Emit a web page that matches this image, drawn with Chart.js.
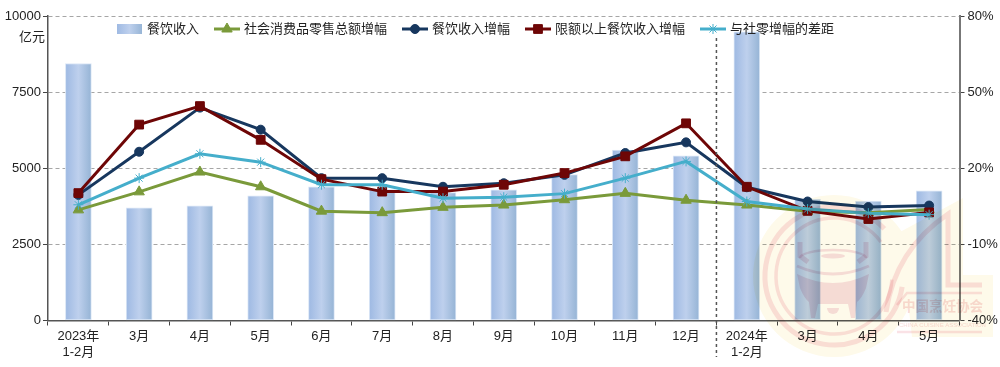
<!DOCTYPE html>
<html lang="zh">
<head>
<meta charset="utf-8">
<title>餐饮收入</title>
<script src="https://cdn.jsdelivr.net/npm/chart.js@4/dist/chart.umd.min.js"></script>
<style>
  html, body { margin: 0; padding: 0; background: #fff; }
  canvas { display: block; }
</style>
</head>
<body>
<canvas id="chart" width="1000" height="367"></canvas>
<script>
const categories = [['2023年', '1-2月'], '3月', '4月', '5月', '6月', '7月', '8月', '9月', '10月', '11月', '12月', ['2024年', '1-2月'], '3月', '4月', '5月'];
const revenue = [8440, 3700, 3765, 4095, 4390, 4300, 4200, 4290, 4790, 5600, 5410, 9480, 3990, 3925, 4260];
const retailGrowth = [3.6, 10.7, 18.5, 12.7, 3.1, 2.5, 4.6, 5.5, 7.6, 10.1, 7.4, 5.5, 3.1, 2.5, 3.7];
const revenueGrowth = [9.5, 26.5, 43.9, 35.2, 16.1, 16.1, 12.7, 14.1, 17.4, 26, 30.2, 12.5, 6.9, 4.7, 5.3];
const aboveLimitGrowth = [10.2, 37.2, 44.5, 31.2, 15.7, 10.8, 10.8, 13.5, 18.1, 24.7, 37.7, 12.7, 3.2, 0, 2.6];
const growthGap = [5.6, 16.1, 25.7, 22.4, 13.5, 13.5, 8.2, 8.6, 10, 16.1, 22.7, 6.9, 3.9, 2.3, 1.7];
const leftTicks = [0, 2500, 5000, 7500, 10000];
const rightTicks = [-40, -10, 20, 50, 80];

const FONT = '"Liberation Sans", "Noto Sans CJK SC", sans-serif';
const TEXT = '#222';
const BAR_W = 25;

// 柱子的横向渐变
function barFill(c) {
    const area = c.chart.chartArea;
    if (!area) return '#b0c6e8';
    const x = c.chart.scales.x.getPixelForValue(c.dataIndex);
    const g = c.chart.ctx.createLinearGradient(x - BAR_W / 2, 0, x + BAR_W / 2, 0);
    g.addColorStop(0, '#9fbae3');
    g.addColorStop(0.5, '#bed0ed');
    g.addColorStop(1, '#97b5d6');
    return g;
}

function lineSet(label, data, color, style, radius, order) {
    return {
        type: 'line', label, data, order, yAxisID: 'y2',
        borderColor: color, backgroundColor: color, borderWidth: 3, tension: 0,
        pointStyle: style, pointRadius: radius,
        pointBorderColor: color, pointBackgroundColor: color, pointBorderWidth: 1
    };
}

// 图例、单位、分隔虚线和水印都画在画布上
const extras = {
    id: 'extras',
    afterDatasetsDraw(chart) {
        const { ctx, scales } = chart;
        const splitX = (scales.x.getPixelForValue(10) + scales.x.getPixelForValue(11)) / 2;
        ctx.save();
        ctx.strokeStyle = '#555';
        ctx.lineWidth = 1.5;
        ctx.setLineDash([3, 3]);
        ctx.beginPath();
        ctx.moveTo(splitX, 38);
        ctx.lineTo(splitX, 357);
        ctx.stroke();
        ctx.restore();
    },
    afterDraw(chart) {
        drawWatermark(chart.ctx);
        drawLegend(chart);
        const ctx = chart.ctx;
        ctx.save();
        ctx.font = '13px ' + FONT;
        ctx.fillStyle = TEXT;
        ctx.textAlign = 'center';
        ctx.textBaseline = 'middle';
        ctx.fillText('亿元', 32, 37);
        ctx.restore();
    }
};

function drawLegend(chart) {
    const ctx = chart.ctx;
    let x = 117;
    const y = 29;
    ctx.save();
    ctx.font = '13px ' + FONT;
    ctx.textBaseline = 'middle';
    chart.data.datasets.forEach(ds => {
        if (ds.type === 'bar') {
            const g = ctx.createLinearGradient(x, 0, x + 25, 0);
            g.addColorStop(0, '#9fbae3');
            g.addColorStop(0.5, '#bed0ed');
            g.addColorStop(1, '#97b5d6');
            ctx.fillStyle = g;
            ctx.fillRect(x, y - 5, 25, 10);
        } else {
            ctx.strokeStyle = ds.borderColor;
            ctx.lineWidth = 3;
            ctx.beginPath();
            ctx.moveTo(x, y);
            ctx.lineTo(x + 26, y);
            ctx.stroke();
            ctx.fillStyle = ds.borderColor;
            ctx.lineWidth = 1;
            Chart.helpers.drawPoint(ctx, {
                pointStyle: ds.pointStyle, radius: ds.pointRadius, borderWidth: 1, rotation: 0
            }, x + 13, y);
        }
        ctx.fillStyle = TEXT;
        ctx.fillText(ds.label, x + 30, y);
        x += 30 + ctx.measureText(ds.label).width + 15;
    });
    ctx.restore();
}

function drawWatermark(ctx) {
    const yellow = '#fefaea';
    const pink = '#fae2e6';
    const body = '#f6e0e7';
    ctx.save();
    ctx.globalCompositeOperation = 'multiply';

    // 黄色底
    ctx.fillStyle = yellow;
    ctx.beginPath();
    ctx.arc(834, 276, 81, 0, Math.PI * 2);
    ctx.moveTo(900, 232);
    ctx.lineTo(963, 198);
    ctx.lineTo(963, 275);
    ctx.lineTo(993, 275);
    ctx.lineTo(993, 337);
    ctx.lineTo(912, 337);
    ctx.closePath();
    ctx.fill();

    // 圆环
    ctx.strokeStyle = pink;
    ctx.lineWidth = 5;
    ctx.beginPath();
    ctx.arc(834, 276, 69, Math.PI * 0.05, Math.PI * 1.76);
    ctx.stroke();
    ctx.lineWidth = 3.5;
    ctx.beginPath();
    ctx.arc(834, 276, 58, Math.PI * 0.02, Math.PI * 1.8);
    ctx.stroke();

    // 右上的弧线和 L 形
    ctx.lineWidth = 5;
    ctx.beginPath();
    ctx.moveTo(886, 312);
    ctx.quadraticCurveTo(895, 250, 948, 214);
    ctx.lineTo(948, 285);
    ctx.lineTo(982, 285);
    ctx.stroke();
    ctx.lineWidth = 2.5;
    ctx.beginPath();
    ctx.moveTo(982, 293);
    ctx.lineTo(907, 293);
    ctx.lineTo(897, 305);
    ctx.moveTo(897, 332);
    ctx.lineTo(982, 332);
    ctx.stroke();

    // 鼎
    ctx.strokeStyle = body;
    ctx.lineWidth = 5;
    ctx.beginPath();
    ctx.moveTo(800, 242);
    ctx.lineTo(800, 256);
    ctx.lineTo(808, 262);
    ctx.moveTo(866, 242);
    ctx.lineTo(866, 256);
    ctx.lineTo(858, 262);
    ctx.stroke();
    ctx.lineWidth = 2.5;
    ctx.beginPath();
    ctx.ellipse(833, 258, 33, 8, 0, Math.PI, 0);
    ctx.stroke();
    ctx.beginPath();
    ctx.ellipse(833, 256, 12, 2.5, 0, 0, Math.PI * 2);
    ctx.fillStyle = body;
    ctx.fill();
    ctx.lineWidth = 3;
    ctx.beginPath();
    ctx.moveTo(797, 266);
    ctx.quadraticCurveTo(833, 282, 869, 266);
    ctx.stroke();
    ctx.beginPath();
    ctx.moveTo(797, 274);
    ctx.quadraticCurveTo(833, 292, 869, 274);
    ctx.lineTo(866, 288);
    ctx.quadraticCurveTo(862, 298, 857, 302);
    ctx.lineTo(855, 318);
    ctx.lineTo(851, 318);
    ctx.lineTo(848, 304);
    ctx.lineTo(818, 304);
    ctx.lineTo(815, 318);
    ctx.lineTo(811, 318);
    ctx.lineTo(809, 302);
    ctx.quadraticCurveTo(804, 298, 800, 288);
    ctx.closePath();
    ctx.fill();
    ctx.beginPath();
    ctx.arc(833, 308, 6, 0, Math.PI);
    ctx.fill();

    ctx.fillStyle = '#f8dcdc';
    ctx.font = 'bold 13.5px "Noto Sans CJK SC", sans-serif';
    ctx.textBaseline = 'middle';
    ctx.fillText('中国烹饪协会', 902, 306);
    ctx.font = '6px "Liberation Sans", sans-serif';
    ctx.fillText('CHINA CUISINE ASSOCIATION', 899, 325);
    ctx.restore();
}

new Chart(document.getElementById('chart'), {
    data: {
        labels: categories,
        datasets: [
            {
                type: 'bar', label: '餐饮收入', data: revenue, order: 5, yAxisID: 'y',
                backgroundColor: barFill, borderColor: '#dce7f6', borderWidth: 1,
                borderSkipped: false, barThickness: BAR_W + 1
            },
            lineSet('社会消费品零售总额增幅', retailGrowth, '#7a9a3a', 'triangle', 6, 4),
            lineSet('餐饮收入增幅', revenueGrowth, '#17375e', 'circle', 4.5, 3),
            lineSet('限额以上餐饮收入增幅', aboveLimitGrowth, '#6e0606', 'rect', 6.2, 2),
            lineSet('与社零增幅的差距', growthGap, '#45aecb', 'star', 5, 1)
        ]
    },
    options: {
        responsive: false,
        animation: false,
        layout: { padding: { top: 16, left: 0, right: 0, bottom: 0 } },
        plugins: { legend: { display: false }, tooltip: { enabled: false } },
        scales: {
            x: {
                afterFit(s) { s.height = 46.5; },
                grid: { drawOnChartArea: false, tickLength: 5, tickColor: '#444', offset: true },
                border: { color: '#555', width: 1.5 },
                ticks: {
                    color: TEXT, font: { family: FONT, size: 13, lineHeight: 1.3 },
                    padding: 2, maxRotation: 0, autoSkip: false
                }
            },
            y: {
                position: 'left', min: 0, max: 10000,
                afterFit(s) { s.width = 48; },
                afterBuildTicks(s) { s.ticks = leftTicks.map(value => ({ value })); },
                grid: { color: '#a6a6a6', tickColor: '#444', tickLength: 5, lineWidth: 1 },
                border: { color: '#555', width: 1.5, dash: [4, 3] },
                ticks: {
                    color: TEXT, font: { family: FONT, size: 13 }, padding: 2,
                    callback: v => String(v)
                }
            },
            y2: {
                position: 'right', min: -40, max: 80,
                afterFit(s) { s.width = 40.5; },
                afterBuildTicks(s) { s.ticks = rightTicks.map(value => ({ value })); },
                grid: { drawOnChartArea: false, tickColor: '#444', tickLength: 5 },
                border: { color: '#777', width: 2 },
                ticks: {
                    color: TEXT, font: { family: FONT, size: 13 }, padding: 3,
                    callback: v => v + '%'
                }
            }
        }
    },
    plugins: [extras]
});
</script>
</body>
</html>
